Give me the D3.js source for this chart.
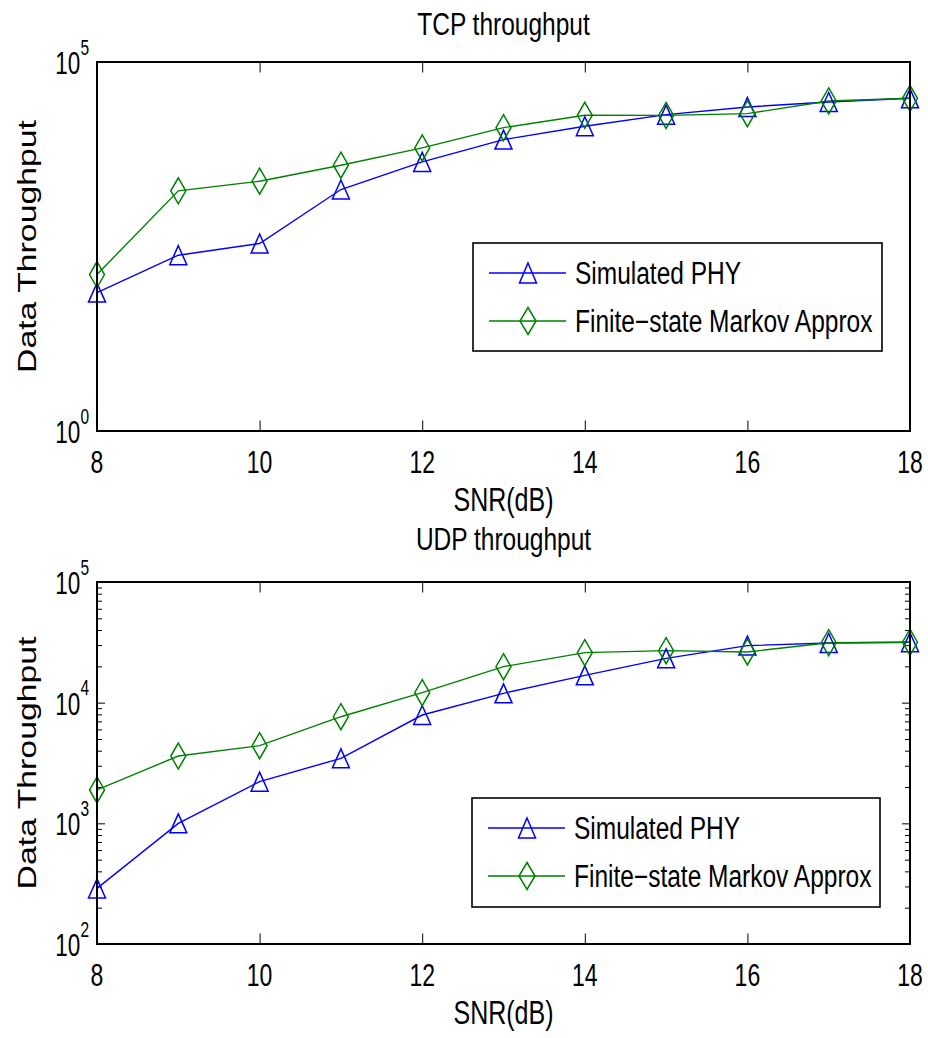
<!DOCTYPE html>
<html>
<head>
<meta charset="utf-8">
<script src="https://cdn.jsdelivr.net/npm/d3@7"></script>
<style>
  html, body { margin: 0; padding: 0; background: #fff; }
  svg { display: block; }
  text { font-family: "Liberation Sans", Arial, Helvetica, sans-serif; fill: #000; }
</style>
</head>
<body>
<svg id="fig" width="928" height="1038"></svg>
<script>
// SNR sweep (dB)
const snr = [8, 9, 10, 11, 12, 13, 14, 15, 16, 17, 18];
const snrTicks = [8, 10, 12, 14, 16, 18];

// TCP throughput
const tcpSimulated = [75, 241, 347, 1870, 4430, 8890, 13460, 19360, 24600, 28700, 32200];
const tcpMarkov    = [132, 1794, 2423, 3990, 6850, 12900, 18960, 18900, 19970, 29650, 32200];

// UDP throughput
const udpSimulated = [289, 1000, 2215, 3456, 7900, 11950, 16850, 23300, 29700, 31200, 31700];
const udpMarkov    = [1890, 3614, 4400, 7650, 12100, 19870, 25960, 26980, 26300, 31400, 31700];

// Axis ranges and decade labels
const tcpYDomain = [1, 1e5];
const tcpYDecades = [0, 5];
const udpYDomain = [1e2, 1e5];
const udpYDecades = [2, 3, 4, 5];

const seriesNames = ["Simulated PHY", "Finite\u2212state Markov Approx"];
const titles = ["TCP throughput", "UDP throughput"];
const xLabel = "SNR(dB)";
const yLabel = "Data Throughput";

const BLUE = "#0000ff", GREEN = "#008000";
const SY = 1.3; // vertical stretch of all lettering

const svg = d3.select("#fig");

function stretchedText(parent, x, y, str, size, anchor, sy) {
  return parent.append("text")
    .attr("transform", `translate(${x},${y}) scale(1,${sy || SY})`)
    .attr("font-size", size)
    .attr("text-anchor", anchor || "middle")
    .text(str);
}

function triangle(w, h) {
  return `M0,${-h / 2}L${w / 2},${h / 2}L${-w / 2},${h / 2}Z`;
}
function diamond(w, h) {
  return `M0,${-h / 2}L${w / 2},0L0,${h / 2}L${-w / 2},0Z`;
}
const markerTri = triangle(17, 19);
const markerDia = diamond(15, 26);

function drawPanel(p) {
  const g = svg.append("g");
  const x = d3.scaleLinear().domain([8, 18]).range([p.left, p.right]);
  const y = d3.scaleLog().domain(p.yDomain).range([p.bottom, p.top]);

  // x ticks (inside, bottom and top)
  g.append("g").attr("transform", `translate(0,${p.bottom})`)
    .call(d3.axisBottom(x).tickValues(snrTicks).tickSize(-10.5).tickFormat(""))
    .call(a => a.select(".domain").remove())
    .selectAll("line").attr("stroke", "#000").attr("stroke-width", 1);
  g.append("g").attr("transform", `translate(0,${p.top})`)
    .call(d3.axisTop(x).tickValues(snrTicks).tickSize(-10.5).tickFormat(""))
    .call(a => a.select(".domain").remove())
    .selectAll("line").attr("stroke", "#000").attr("stroke-width", 1);

  // y ticks (log, inside, left and right)
  if (p.yTicks) {
    const lo = Math.log10(p.yDomain[0]), hi = Math.log10(p.yDomain[1]);
    const majors = d3.range(lo, hi + 1).map(e => Math.pow(10, e));
    const minors = [];
    d3.range(lo, hi).forEach(e => { for (let k = 2; k <= 9; k++) minors.push(k * Math.pow(10, e)); });
    [[d3.axisLeft, p.left], [d3.axisRight, p.right]].forEach(([ax, pos]) => {
      g.append("g").attr("transform", `translate(${pos},0)`)
        .call(ax(y).tickValues(majors).tickSize(-8).tickFormat(""))
        .call(a => a.select(".domain").remove())
        .selectAll("line").attr("stroke", "#000").attr("stroke-width", 1);
      g.append("g").attr("transform", `translate(${pos},0)`)
        .call(ax(y).tickValues(minors).tickSize(-5).tickFormat(""))
        .call(a => a.select(".domain").remove())
        .selectAll("line").attr("stroke", "#000").attr("stroke-width", 1);
    });
  }

  // x tick labels
  snrTicks.forEach(v => stretchedText(g, x(v), p.bottom + 42, String(v), 23, "middle", 1.35));

  // y tick labels 10^n
  p.yDecades.forEach(e => {
    const t = g.append("text")
      .attr("transform", `translate(${p.left - 8},${y(Math.pow(10, e)) + 12}) scale(1,1.38)`)
      .attr("font-size", 22.5).attr("text-anchor", "end");
    t.append("tspan").text("10");
    t.append("tspan").attr("dy", -14).attr("font-size", 15.5).text(String(e));
  });

  // series
  const line = d3.line().x((d, i) => x(snr[i])).y(d => y(d));
  const series = [
    { values: p.sim, color: BLUE, marker: markerTri },
    { values: p.mkv, color: GREEN, marker: markerDia }
  ];
  series.forEach(s => {
    g.append("path").attr("d", line(s.values))
      .attr("fill", "none").attr("stroke", s.color).attr("stroke-width", 1.4);
  });
  series.forEach(s => {
    g.selectAll(null).data(s.values).enter().append("path")
      .attr("transform", (d, i) => `translate(${x(snr[i])},${y(d)})`)
      .attr("d", s.marker)
      .attr("fill", "none").attr("stroke", s.color).attr("stroke-width", 1.5);
  });

  // frame
  g.append("rect").attr("x", p.left).attr("y", p.top)
    .attr("width", p.right - p.left).attr("height", p.bottom - p.top)
    .attr("fill", "none").attr("stroke", "#000").attr("stroke-width", 2);

  // title and axis labels
  stretchedText(g, (p.left + p.right) / 2, p.titleY, p.title, 24.5, "middle", SY);
  stretchedText(g, (p.left + p.right) / 2, p.bottom + 80, xLabel, 25, "middle", SY);
  g.append("text")
    .attr("transform", `translate(36,${(p.top + p.bottom) / 2}) scale(1,${SY}) rotate(-90)`)
    .attr("font-size", 26).attr("text-anchor", "middle")
    .text(yLabel);

  // legend
  const L = p.legend;
  const lg = g.append("g");
  lg.append("rect").attr("x", L.x0).attr("y", L.y0)
    .attr("width", L.x1 - L.x0).attr("height", L.y1 - L.y0)
    .attr("fill", "#fff").attr("stroke", "#000").attr("stroke-width", 1.6);
  series.forEach((s, i) => {
    const ry = L.y0 + 30 + i * 48;
    lg.append("line").attr("x1", L.x0 + 16).attr("x2", L.x0 + 93)
      .attr("y1", ry).attr("y2", ry).attr("stroke", s.color).attr("stroke-width", 1.4);
    lg.append("path").attr("transform", `translate(${L.x0 + 55},${ry})`)
      .attr("d", i === 0 ? triangle(17, 20) : diamond(16, 27))
      .attr("fill", "none").attr("stroke", s.color).attr("stroke-width", 1.5);
    stretchedText(lg, L.x0 + 102, ry + 11, seriesNames[i], 24.5, "start", 1.25);
  });
}

drawPanel({
  left: 97, right: 910, top: 62, bottom: 431,
  yDomain: tcpYDomain, yDecades: tcpYDecades, yTicks: false,
  sim: tcpSimulated, mkv: tcpMarkov,
  title: titles[0], titleY: 35,
  legend: { x0: 473, x1: 882, y0: 243, y1: 351 }
});

drawPanel({
  left: 97, right: 910, top: 582, bottom: 944,
  yDomain: udpYDomain, yDecades: udpYDecades, yTicks: true,
  sim: udpSimulated, mkv: udpMarkov,
  title: titles[1], titleY: 550,
  legend: { x0: 472, x1: 880, y0: 798, y1: 907 }
});
</script>
</body>
</html>
